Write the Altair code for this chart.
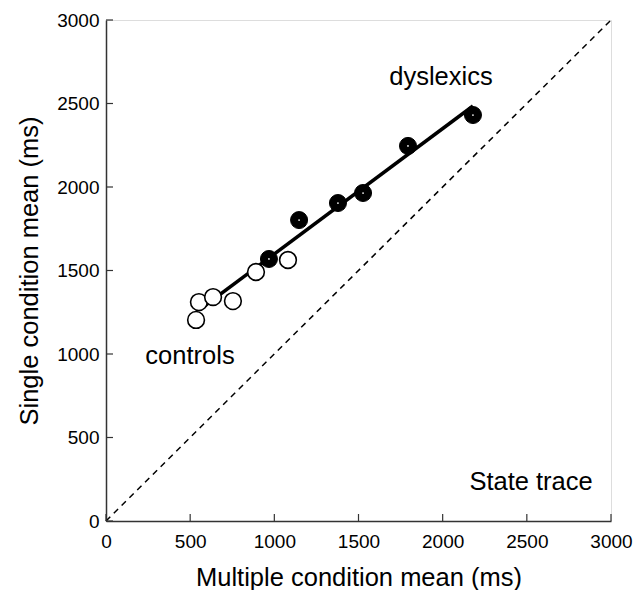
import altair as alt
import pandas as pd

# Data
ctrl_x = [535, 552, 636, 754, 891, 1081]
ctrl_y = [1204, 1311, 1341, 1317, 1491, 1563]
dys_x = [968, 1147, 1378, 1527, 1794, 2180]
dys_y = [1569, 1802, 1904, 1964, 2246, 2431]
fit_x = [555, 2180]
fit_y = [1265, 2485]
diag = [0, 3000]
tick_vals = [0, 500, 1000, 1500, 2000, 2500, 3000]
labels_txt = ["dyslexics", "controls", "State trace"]
labels_x = [1990, 499, 2525]
labels_y = [2659, 988, 234]

FONT = "Liberation Sans"
W, H = 505, 501

ctrl = pd.DataFrame({"x": ctrl_x, "y": ctrl_y})
dys = pd.DataFrame({"x": dys_x, "y": dys_y})
fit = pd.DataFrame({"x": fit_x, "y": fit_y})
dg = pd.DataFrame({"x": diag, "y": diag})
ticks = pd.DataFrame({"v": tick_vals})
lab = pd.DataFrame({"t": labels_txt, "x": labels_x, "y": labels_y})

xs = alt.Scale(domain=[0, 3000], nice=False)
ys = alt.Scale(domain=[0, 3000], nice=False)

xaxis = alt.Axis(values=tick_vals, ticks=False, grid=False, title="Multiple condition mean (ms)",
                 format="d",
                 labelFont=FONT, labelFontSize=19, labelColor="black", labelPadding=11,
                 titleFont=FONT, titleFontSize=25.5, titleFontWeight="normal", titleColor="black",
                 titlePadding=14, domainColor="#333", domainWidth=1.5, labelFlush=False)
yaxis = alt.Axis(values=tick_vals, ticks=False, grid=False, title="Single condition mean (ms)",
                 format="d",
                 labelFont=FONT, labelFontSize=19, labelColor="black", labelPadding=7,
                 titleFont=FONT, titleFontSize=25.5, titleFontWeight="normal", titleColor="black",
                 titlePadding=14, domainColor="#333", domainWidth=1.5, labelFlush=False)

diag_line = alt.Chart(dg).mark_line(color="black", strokeWidth=1.5, strokeDash=[6, 5]).encode(
    x=alt.X("x:Q", scale=xs, axis=xaxis),
    y=alt.Y("y:Q", scale=ys, axis=yaxis),
)

fit_line = alt.Chart(fit).mark_line(color="black", strokeWidth=3.5).encode(
    x=alt.X("x:Q", scale=xs), y=alt.Y("y:Q", scale=ys)
)

ctrl_pts = alt.Chart(ctrl).mark_point(shape="circle", filled=True, fill="white", stroke="black",
                                      strokeWidth=1.6, size=280, opacity=1).encode(
    x=alt.X("x:Q", scale=xs), y=alt.Y("y:Q", scale=ys)
)

dys_pts = alt.Chart(dys).mark_point(shape="circle", filled=True, fill="black", stroke="black",
                                    strokeWidth=1, size=290, opacity=1).encode(
    x=alt.X("x:Q", scale=xs), y=alt.Y("y:Q", scale=ys)
)

dys_dots = alt.Chart(dys).mark_point(shape="circle", filled=True, color="white", size=3, opacity=1).encode(
    x=alt.X("x:Q", scale=xs), y=alt.Y("y:Q", scale=ys)
)

xticks = alt.Chart(ticks).mark_rule(color="#333", strokeWidth=1.2).encode(
    x=alt.X("v:Q", scale=xs), y=alt.value(H), y2=alt.value(H - 7)
)
yticks = alt.Chart(ticks).mark_rule(color="#333", strokeWidth=1.2).encode(
    y=alt.Y("v:Q", scale=ys), x=alt.value(0), x2=alt.value(7)
)

texts = alt.Chart(lab).mark_text(font=FONT, fontSize=25.5, color="black").encode(
    x=alt.X("x:Q", scale=xs), y=alt.Y("y:Q", scale=ys), text="t:N"
)

chart = alt.layer(diag_line, fit_line, ctrl_pts, dys_pts, dys_dots, xticks, yticks, texts).properties(
    width=W, height=H,
    autosize=alt.AutoSizeParams(type="none"),
    padding={"left": 106, "top": 20, "right": 23, "bottom": 69},
).configure_view(stroke="#333", strokeWidth=1.5).configure(background="white")

chart.save("out.html", embed_options={"renderer": "svg", "actions": False})
